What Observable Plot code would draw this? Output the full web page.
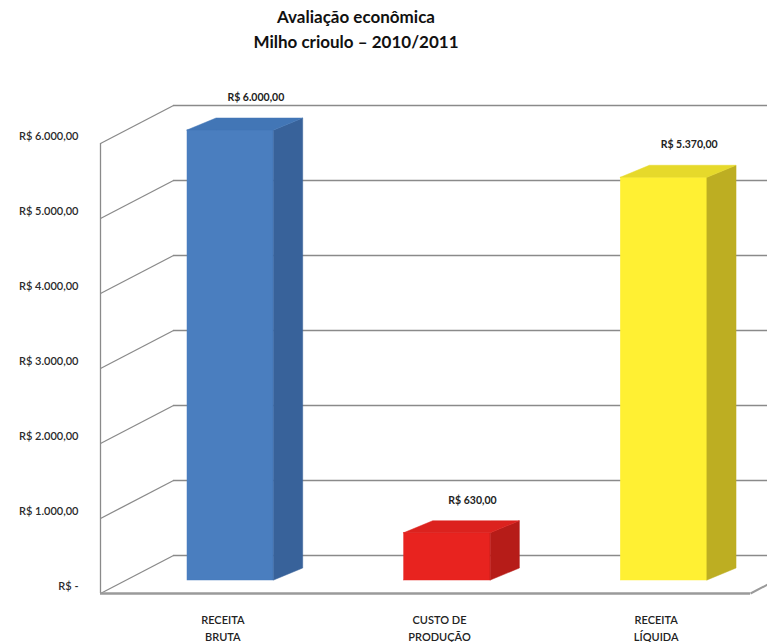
<!DOCTYPE html>
<html>
<head>
<meta charset="utf-8">
<script src="https://cdn.jsdelivr.net/npm/d3@7"></script>
<script src="https://cdn.jsdelivr.net/npm/@observablehq/plot@0.6"></script>
<style>
  html, body { margin: 0; padding: 0; background: #fff; }
  #title { width: 712px; height: 60px; box-sizing: border-box; padding-top: 4px;
    text-align: center; font-family: Lato, "Open Sans", sans-serif; font-weight: 700;
    font-size: 17px; line-height: 25px; color: #111; }
  svg { display: block; }
</style>
</head>
<body>
<div id="title">Avaliação econômica<br>Milho crioulo – 2010/2011</div>
<div id="chart"></div>
<script>
// ---- data ----
const categories = ["RECEITA\nBRUTA", "CUSTO DE\nPRODUÇÃO", "RECEITA\nLÍQUIDA"];
const values = [6000, 630, 5370];
const yTicks = [0, 1000, 2000, 3000, 4000, 5000, 6000];

// ---- styles ----
const frontColors = ["#4A7EBF", "#E8231F", "#FFF033"];
const sideColors  = ["#38629A", "#B61C18", "#BDAE22"];
const topColors   = ["#4276B6", "#DC221E", "#E6D92B"];

const brl = d3.formatLocale({decimal: ",", thousands: ".", grouping: [3], currency: ["R$ ", ""]}).format("$,.2f");
const fmt = v => v === 0 ? "R$ -" : brl(v);

const rows = categories.map((c, i) => ({cat: c, i, value: values[i]}));

// 3D geometry (in data units of the linear x / y scales)
const half = 0.2;          // half bar width (category units)
const depthX = 0.134, depthV = 160;     // bar depth
const wallX = 0.337, wallV = 506.7;     // wall depth (data units)
const wallDx = 73;                      // wall depth (pixels, horizontal)
const barDx = 22, barDy = -13;          // bar position inside the box

const sidePts = rows.flatMap(r => {
  const xr = r.i + 0.5 + half;
  return [
    {i: r.i, x: xr, y1: 0, y2: r.value},
    {i: r.i, x: xr + depthX, y1: depthV, y2: r.value + depthV}
  ];
});
const topPts = rows.flatMap(r => {
  const xl = r.i + 0.5 - half, xr = r.i + 0.5 + half, v = r.value;
  return [
    {i: r.i, x: xl, y1: v, y2: v},
    {i: r.i, x: xl + depthX, y1: v, y2: v + depthV},
    {i: r.i, x: xr, y1: v, y2: v + depthV},
    {i: r.i, x: xr + depthX, y1: v + depthV, y2: v + depthV}
  ];
});

const chart = Plot.plot({
  width: 767,
  height: 582,
  marginLeft: 100,
  marginRight: 17,
  marginTop: 83,
  marginBottom: 49,
  style: {fontFamily: "Lato, 'Open Sans', sans-serif", background: "#fff", overflow: "hidden"},
  x: {domain: [0, 3], axis: null},
  y: {domain: [0, 6000], axis: null},
  color: {type: "identity"},
  marks: [
    // back wall gridlines
    Plot.ruleY(yTicks, {y: d => d + wallV, dx: wallDx, stroke: "#8a8a8a", strokeWidth: 1.4}),
    // left wall diagonals
    Plot.link(yTicks, {x1: () => 0, x2: () => wallX, y1: d => d, y2: d => d + wallV, stroke: "#8a8a8a", strokeWidth: 1.3}),
    // left wall front edge
    Plot.ruleX([0], {x: d => d, y1: () => 0, y2: () => 6000, stroke: "#8a8a8a", strokeWidth: 1.3}),
    // floor front edge and right edge
    Plot.ruleY([0], {y: d => d, stroke: "#9a9a9a", strokeWidth: 2.4}),
    Plot.link([0], {x1: () => 3, x2: () => 3 + wallX, y1: d => d, y2: d => d + wallV, stroke: "#9a9a9a", strokeWidth: 2}),
    // bars: front faces
    Plot.rect(rows, {x1: r => r.i + 0.5 - half, x2: r => r.i + 0.5 + half, y1: () => 0, y2: r => r.value,
      fill: r => frontColors[r.i], stroke: r => frontColors[r.i], strokeWidth: 0.5, dx: barDx, dy: barDy}),
    // side faces
    Plot.area(sidePts, {x1: "x", y1: "y1", y2: "y2", z: "i", fill: d => sideColors[d.i],
      stroke: d => sideColors[d.i], strokeWidth: 0.5, dx: barDx, dy: barDy}),
    // top faces
    Plot.area(topPts, {x1: "x", y1: "y1", y2: "y2", z: "i", fill: d => topColors[d.i],
      stroke: d => topColors[d.i], strokeWidth: 0.5, dx: barDx, dy: barDy}),
    // value labels
    Plot.text(rows, {x: r => r.i + 0.5, y: r => r.value, text: r => fmt(r.value), dx: 47, dy: -46,
      fontSize: 10.5, fontWeight: "bold", fill: "#222"}),
    // y-axis labels
    Plot.axisY(yTicks, {tickSize: 0, tickPadding: 22, dy: -7, tickFormat: fmt, fontSize: 11, fontWeight: 600, fill: "#2a2a2a", label: null}),
    // category labels
    Plot.text(rows, {x: r => r.i + 0.5, y: () => 0, text: "cat", dx: 14, dy: 33.5, lineAnchor: "middle",
      lineHeight: 1.55, fontSize: 11, fontWeight: 600, fill: "#222"})
  ]
});
document.getElementById("chart").appendChild(chart);
</script>
</body>
</html>
